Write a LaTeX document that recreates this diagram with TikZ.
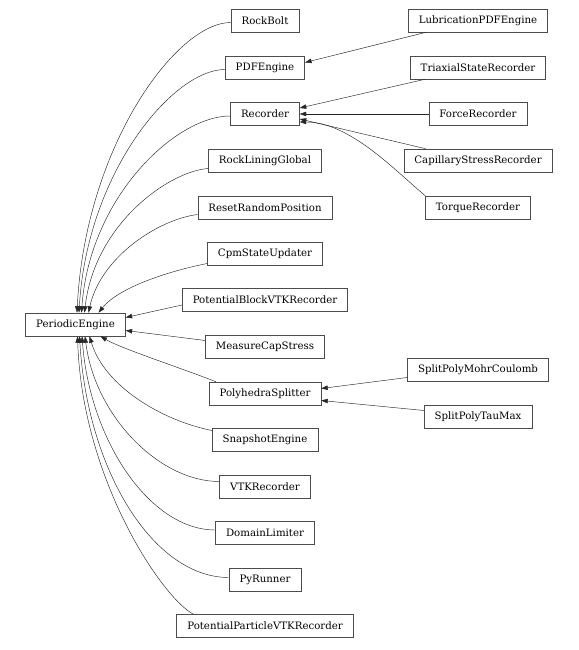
\documentclass[tikz,border=0pt]{standalone}
\usepackage{fontspec}
\setmainfont{DejaVu Serif}
\usetikzlibrary{arrows.meta}

\begin{document}
\begin{tikzpicture}[
    x = 1pt, y = 1pt,
    every node/.style = {font = \fontsize{10.2}{12}\selectfont},
    cls/.style        = {draw = black!70, line width = 0.6pt, fill = white, minimum height = 23pt, inner xsep = 10.5pt, inner ysep = 0pt},
    arr/.style        = {-{Triangle[length=6.5pt, width=4.5pt]}, line width = 0.45pt, draw = black!85},
]
\useasboundingbox (0,0) rectangle (578,650);

% ---------- base class ----------
\node[cls] (pe)        at ( 75.5, 325.5) {PeriodicEngine};

% ---------- direct subclasses, one column ----------
\node[cls] (rockbolt)  at (265, 629.5) {RockBolt};
\node[cls] (pdf)       at (265, 582.5) {PDFEngine};
\node[cls] (rec)       at (265, 536)   {Recorder};
\node[cls] (lining)    at (265, 489.5) {RockLiningGlobal};
\node[cls] (reset)     at (265, 442.5) {ResetRandomPosition};
\node[cls] (cpm)       at (265, 396.5) {CpmStateUpdater};
\node[cls] (potblock)  at (265, 350)   {PotentialBlockVTKRecorder};
\node[cls] (measure)   at (265, 303.5) {MeasureCapStress};
\node[cls] (polysplit) at (265, 256.5) {PolyhedraSplitter};
\node[cls] (snap)      at (265, 210.5) {SnapshotEngine};
\node[cls] (vtk)       at (265, 163.5) {VTKRecorder};
\node[cls] (domain)    at (265, 117)   {DomainLimiter};
\node[cls] (pyrun)     at (265, 70.5)  {PyRunner};
\node[cls] (potpart)   at (265, 24)    {PotentialParticleVTKRecorder};

% ---------- second level ----------
\node[cls] (lub)       at (478, 629.5) {LubricationPDFEngine};
\node[cls] (triax)     at (478, 582.5) {TriaxialStateRecorder};
\node[cls] (force)     at (478, 536)   {ForceRecorder};
\node[cls] (capil)     at (478, 489.5) {CapillaryStressRecorder};
\node[cls] (torque)    at (478, 442.5) {TorqueRecorder};
\node[cls] (mohr)      at (478, 280.5) {SplitPolyMohrCoulomb};
\node[cls] (taumax)    at (478, 233.5) {SplitPolyTauMax};

% ---------- edges into PeriodicEngine, upper half ----------
\draw[arr] ([yshift=-2pt]rockbolt.west) .. controls +(-55,0) and +(8,165) .. ([xshift=1.5pt]pe.north);
\draw[arr] ([yshift=-2pt]pdf.west) .. controls +(-52,0) and +(8,140) .. ([xshift=3.5pt]pe.north);
\draw[arr] ([yshift=-2pt]rec.west) .. controls +(-55,0) and +(8,115) .. ([xshift=6pt]pe.north);
\draw[arr] ([yshift=-8pt]lining.west) .. controls +(-40,-3) and +(10,88) .. ([xshift=9pt]pe.north);
\draw[arr] ([yshift=-7pt]reset.west) .. controls +(-40,-5) and +(12,55) .. ([xshift=13pt]pe.north);
\draw[arr] ([yshift=-10pt]cpm.west) .. controls +(-40,-8) and +(20,25) .. ([xshift=23pt]pe.north);
\draw[arr] ([yshift=-5pt]potblock.west) -- ([yshift=7pt]pe.east);
\draw[arr] ([yshift=6pt]measure.west) -- ([yshift=-6pt]pe.east);

% ---------- edges into PeriodicEngine, lower half ----------
\draw[arr] ([xshift=7pt]polysplit.north west) .. controls +(-30,12) and +(20,-12) .. ([xshift=25pt]pe.south);
\draw[arr] ([yshift=9pt]snap.west) .. controls +(-50,10) and +(15,-50) .. ([xshift=14pt]pe.south);
\draw[arr] ([yshift=5pt]vtk.west) .. controls +(-60,0) and +(10,-80) .. ([xshift=9.5pt]pe.south);
\draw[arr] ([yshift=3pt]domain.west) .. controls +(-65,0) and +(8,-105) .. ([xshift=6.5pt]pe.south);
\draw[arr] ([yshift=2pt]pyrun.west) .. controls +(-75,0) and +(8,-135) .. ([xshift=4pt]pe.south);
\draw[arr] ([xshift=17pt]potpart.north west) .. controls +(-30,15) and +(5,-145) .. ([xshift=2pt]pe.south);

% ---------- second level edges ----------
\draw[arr] ([xshift=18pt]lub.south west) -- ([yshift=5pt]pdf.east);
\draw[arr] ([xshift=15pt]triax.south west) -- ([yshift=6pt]rec.east);
\draw[arr] (force.west) -- (rec.east);
\draw[arr] ([xshift=22pt]capil.north west) -- ([yshift=-5pt]rec.east);
\draw[arr] (torque.north west) .. controls +(-30,25) and +(50,0) .. ([yshift=-8pt]rec.east);
\draw[arr] ([yshift=-8pt]mohr.west) -- ([yshift=5pt]polysplit.east);
\draw[arr] ([yshift=6pt]taumax.west) -- ([yshift=-7pt]polysplit.east);

\end{tikzpicture}
\end{document}
